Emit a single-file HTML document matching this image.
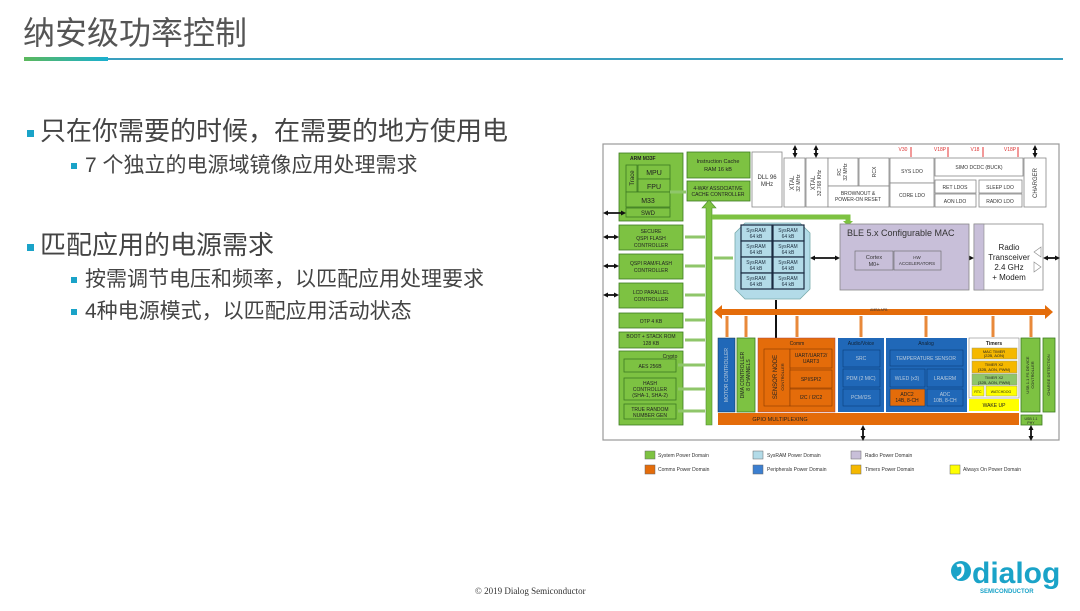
<!DOCTYPE html>
<html><head><meta charset="utf-8"><style>
html,body{margin:0;padding:0;background:#fff;width:1080px;height:611px;overflow:hidden;position:relative;font-family:"Liberation Sans","Noto Sans CJK SC",sans-serif}
.t{position:absolute;white-space:nowrap;color:#444}
.sq{display:inline-block;background:#1aa3c8}
</style></head><body>
<div class="t" style="left:23px;top:8px;font-size:32px;color:#555">纳安级功率控制</div>
<div style="position:absolute;left:24px;top:57px;width:84px;height:4px;background:linear-gradient(90deg,#5cb85c,#1ab0d0)"></div>
<div style="position:absolute;left:108px;top:58px;width:955px;height:2px;background:#3a9fbf"></div>

<div class="t" style="left:27px;top:111px;font-size:26px"><span class="sq" style="width:7px;height:7px;margin-right:6px;vertical-align:middle"></span>只在你需要的时候，在需要的地方使用电</div>
<div class="t" style="left:71px;top:149px;font-size:21px"><span class="sq" style="width:6px;height:6px;margin-right:8px;vertical-align:middle"></span>7 个独立的电源域镜像应用处理需求</div>
<div class="t" style="left:27px;top:225px;font-size:26px"><span class="sq" style="width:7px;height:7px;margin-right:6px;vertical-align:middle"></span>匹配应用的电源需求</div>
<div class="t" style="left:71px;top:263px;font-size:21px"><span class="sq" style="width:6px;height:6px;margin-right:8px;vertical-align:middle"></span>按需调节电压和频率，以匹配应用处理要求</div>
<div class="t" style="left:71px;top:295px;font-size:21px"><span class="sq" style="width:6px;height:6px;margin-right:8px;vertical-align:middle"></span>4种电源模式，以匹配应用活动状态</div>

<div class="t" style="left:475px;top:586px;font-size:9px;font-family:'Liberation Serif',serif;color:#333">© 2019 Dialog Semiconductor</div>

<svg style="position:absolute;left:0;top:0" width="1080" height="611" font-family="Liberation Sans, sans-serif">
<defs>
<marker id="ab" markerUnits="userSpaceOnUse" markerWidth="5" markerHeight="5" refX="3" refY="2.5" orient="auto-start-reverse"><path d="M0,0L5,2.5L0,5z" fill="#111"/></marker>
</defs>
<!-- logo -->
<circle cx="961" cy="571" r="10" fill="#1aa3c8"/>
<path d="M957,566 q6,-3 6,4 q0,6 -6,8" stroke="#fff" stroke-width="3" fill="none"/>
<text x="972" y="583" font-size="30" fill="#1aa3c8" font-weight="bold">dialog</text>
<text x="980" y="593" font-size="6" fill="#1aa3c8" font-weight="bold">SEMICONDUCTOR</text>

<!-- frame -->
<rect x="603" y="144" width="456" height="296" fill="#fff" stroke="#999" stroke-width="1.2"/>

<g stroke="#3d7a22" stroke-width="0.8" fill="#7dc242">
<rect x="619" y="153" width="64" height="68"/>
<rect x="626" y="165" width="11" height="27"/>
<rect x="638" y="165" width="32" height="14"/>
<rect x="638" y="179" width="32" height="13"/>
<rect x="626" y="192" width="44" height="15"/>
<rect x="626" y="208" width="44" height="9"/>
<rect x="687" y="152" width="63" height="26"/>
<rect x="687" y="181" width="63" height="20"/>
<rect x="619" y="225" width="64" height="25"/>
<rect x="619" y="254" width="64" height="25"/>
<rect x="619" y="283" width="64" height="25"/>
<rect x="619" y="313" width="64" height="15"/>
<rect x="619" y="332" width="64" height="16"/>
<rect x="619" y="351" width="64" height="74"/>
<rect x="624" y="359" width="52" height="13"/>
<rect x="624" y="378" width="52" height="22"/>
<rect x="624" y="404" width="52" height="15"/>
<rect x="737" y="338" width="18" height="74"/>
<rect x="1021" y="338" width="19" height="74"/>
<rect x="1043" y="338" width="12" height="74"/>
<rect x="1021" y="415" width="21" height="10"/>
</g>
<g font-size="5" fill="#222" text-anchor="middle">
<text x="630" y="160" text-anchor="start" font-weight="bold">ARM M33F</text>
<text x="654" y="175" font-size="7">MPU</text><text x="654" y="189" font-size="7">FPU</text>
<text x="648" y="203" font-size="7">M33</text><text x="648" y="215" font-size="6">SWD</text>
<text x="634" y="178" font-size="6" transform="rotate(-90 634 178)">Trace</text>
<text x="718" y="163" font-size="5.5">Instruction Cache</text><text x="718" y="171" font-size="5.5">RAM 16 kB</text>
<text x="718" y="190">4-WAY ASSOCIATIVE</text><text x="718" y="196">CACHE CONTROLLER</text>
<text x="651" y="233">SECURE</text><text x="651" y="240">QSPI FLASH</text><text x="651" y="247">CONTROLLER</text>
<text x="651" y="265">QSPI RAM/FLASH</text><text x="651" y="272">CONTROLLER</text>
<text x="651" y="294">LCD PARALLEL</text><text x="651" y="301">CONTROLLER</text>
<text x="651" y="323">OTP 4 KB</text>
<text x="651" y="338">BOOT + STACK ROM</text><text x="651" y="345">128 KB</text>
<text x="670" y="358">Crypto</text>
<text x="650" y="368">AES 256B</text>
<text x="650" y="385">HASH</text><text x="650" y="391">CONTROLLER</text><text x="650" y="397">(SHA-1, SHA-2)</text>
<text x="650" y="411">TRUE RANDOM</text><text x="650" y="417">NUMBER GEN</text>
</g>

<g stroke="#888" stroke-width="0.8" fill="#fff">
<rect x="752" y="152" width="30" height="55"/>
<rect x="784" y="158" width="21" height="49"/>
<rect x="806" y="158" width="22" height="49"/>
<rect x="828" y="158" width="30" height="28"/>
<rect x="859" y="158" width="30" height="28"/>
<rect x="828" y="186" width="61" height="21"/>
<rect x="890" y="158" width="44" height="25"/>
<rect x="890" y="183" width="44" height="24"/>
<rect x="935" y="158" width="88" height="18"/>
<rect x="935" y="180" width="41" height="13"/>
<rect x="979" y="180" width="43" height="13"/>
<rect x="935" y="194" width="41" height="13"/>
<rect x="979" y="194" width="43" height="13"/>
<rect x="1024" y="158" width="22" height="49"/>
</g>
<g font-size="5" fill="#333" text-anchor="middle">
<text x="767" y="179" font-size="6">DLL 96</text><text x="767" y="186" font-size="6">MHz</text>
<text x="794" y="183" font-size="6" transform="rotate(-90 794 183)">XTAL</text>
<text x="800" y="183" transform="rotate(-90 800 183)">32 MHz</text>
<text x="815" y="183" font-size="6" transform="rotate(-90 815 183)">XTAL</text>
<text x="821" y="183" transform="rotate(-90 821 183)">32.768 KHz</text>
<text x="841" y="172" transform="rotate(-90 841 172)">RC</text>
<text x="847" y="172" transform="rotate(-90 847 172)">32 MHz</text>
<text x="876" y="172" transform="rotate(-90 876 172)">RCX</text>
<text x="858" y="195">BROWNOUT &amp;</text><text x="858" y="201">POWER-ON RESET</text>
<text x="912" y="173">SYS LDO</text><text x="912" y="197">CORE LDO</text>
<text x="979" y="169">SIMO DCDC (BUCK)</text>
<text x="955" y="189">RET LDOS</text><text x="1000" y="189">SLEEP LDO</text>
<text x="955" y="203">AON LDO</text><text x="1000" y="203">RADIO LDO</text>
<text x="1037" y="183" font-size="6" transform="rotate(-90 1037 183)">CHARGER</text>
<g fill="#d33" font-size="5"><text x="903" y="151">V30</text><text x="940" y="151">V18P</text><text x="975" y="151">V18</text><text x="1010" y="151">V18P</text></g>
</g>
<g stroke="#e77" stroke-width="1.5"><line x1="911" y1="147" x2="911" y2="157"/><line x1="948" y1="147" x2="948" y2="157"/><line x1="983" y1="147" x2="983" y2="157"/><line x1="1018" y1="147" x2="1018" y2="157"/></g>

<g stroke="#111" stroke-width="1.8" marker-start="url(#ab)" marker-end="url(#ab)">
<line x1="795" y1="147" x2="795" y2="156"/><line x1="816" y1="147" x2="816" y2="156"/><line x1="1035" y1="147" x2="1035" y2="156"/>
<line x1="605" y1="213" x2="624" y2="213"/>
<line x1="605" y1="237" x2="617" y2="237"/><line x1="605" y1="266" x2="617" y2="266"/><line x1="605" y1="295" x2="617" y2="295"/>
<line x1="812" y1="258" x2="838" y2="258"/>
<line x1="943" y1="258" x2="972" y2="258"/>
<line x1="1045" y1="258" x2="1058" y2="258"/>
<line x1="863" y1="427" x2="863" y2="439"/><line x1="1031" y1="427" x2="1031" y2="439"/>
</g>
<line x1="776" y1="300" x2="776" y2="349" stroke="#111" stroke-width="2"/>

<g fill="#7dc242" stroke="#4a8c2a" stroke-width="0.6">
<path d="M706,425 L706,208 L702,208 L709,200 L716,208 L712,208 L712,425 Z"/>
</g>
<path d="M712,217 L848,217 L848,222" stroke="#7dc242" stroke-width="5" fill="none"/>
<path d="M843,221 L853,221 L848,226 Z" fill="#7dc242"/>
<g stroke="#8fc66a" stroke-width="3">
<line x1="685" y1="237" x2="705" y2="237"/><line x1="685" y1="266" x2="705" y2="266"/><line x1="685" y1="295" x2="705" y2="295"/>
<line x1="685" y1="320" x2="705" y2="320"/><line x1="685" y1="340" x2="705" y2="340"/>
<line x1="678" y1="365" x2="705" y2="365"/><line x1="678" y1="389" x2="705" y2="389"/><line x1="678" y1="411" x2="705" y2="411"/>
<line x1="670" y1="192" x2="686" y2="192"/><line x1="714" y1="258" x2="733" y2="258"/>
</g>

<path d="M745,223 L800,223 L810,233 L810,289 L800,299 L745,299 L735,289 L735,233 Z" fill="#b3dbe8" stroke="#7aa" stroke-width="0.8"/>
<g fill="#b3dbe8" stroke="#1a2a40" stroke-width="1.2">
<rect x="741" y="225" width="31" height="16"/><rect x="773" y="225" width="31" height="16"/>
<rect x="741" y="241" width="31" height="16"/><rect x="773" y="241" width="31" height="16"/>
<rect x="741" y="257" width="31" height="16"/><rect x="773" y="257" width="31" height="16"/>
<rect x="741" y="273" width="31" height="16"/><rect x="773" y="273" width="31" height="16"/>
</g>
<g font-size="5" fill="#234" text-anchor="middle">
<text x="756" y="232">SysRAM</text><text x="756" y="238">64 kB</text><text x="788" y="232">SysRAM</text><text x="788" y="238">64 kB</text>
<text x="756" y="248">SysRAM</text><text x="756" y="254">64 kB</text><text x="788" y="248">SysRAM</text><text x="788" y="254">64 kB</text>
<text x="756" y="264">SysRAM</text><text x="756" y="270">64 kB</text><text x="788" y="264">SysRAM</text><text x="788" y="270">64 kB</text>
<text x="756" y="280">SysRAM</text><text x="756" y="286">64 kB</text><text x="788" y="280">SysRAM</text><text x="788" y="286">64 kB</text>
</g>

<rect x="840" y="224" width="129" height="66" fill="#c8bfd9" stroke="#888" stroke-width="0.8"/>
<text x="847" y="236" font-size="9" fill="#333">BLE 5.x Configurable MAC</text>
<rect x="855" y="251" width="38" height="19" fill="#c8bfd9" stroke="#666" stroke-width="0.6"/>
<rect x="894" y="251" width="47" height="19" fill="#c8bfd9" stroke="#666" stroke-width="0.6"/>
<g font-size="5.5" fill="#333" text-anchor="middle"><text x="874" y="259">Cortex</text><text x="874" y="266">M0+</text>
<text x="917" y="259" font-size="4.5">HW</text><text x="917" y="265" font-size="4.5">ACCELERATORS</text></g>
<rect x="974" y="224" width="69" height="66" fill="#fff" stroke="#888" stroke-width="0.8"/>
<rect x="974" y="224" width="10" height="66" fill="#c8bfd9" stroke="#888" stroke-width="0.6"/>
<g font-size="8" fill="#222" text-anchor="middle"><text x="1009" y="250">Radio</text><text x="1009" y="260">Transceiver</text><text x="1009" y="270">2.4 GHz</text><text x="1009" y="280">+ Modem</text></g>
<path d="M1041,247 L1034,252 L1041,257 Z M1034,262 L1041,267 L1034,272 Z" fill="none" stroke="#888" stroke-width="0.6"/>

<path d="M722,309 L1045,309 L1045,305 L1053,312 L1045,319 L1045,315 L722,315 L722,319 L714,312 L722,305 Z" fill="#e46c0a"/>
<text x="870" y="311" font-size="3.5" fill="#333">AMBA APB</text>
<g stroke="#e8893a" stroke-width="3">
<line x1="727" y1="316" x2="727" y2="337"/><line x1="746" y1="316" x2="746" y2="337"/><line x1="797" y1="316" x2="797" y2="337"/>
<line x1="861" y1="316" x2="861" y2="337"/><line x1="926" y1="316" x2="926" y2="337"/><line x1="993" y1="316" x2="993" y2="337"/><line x1="1031" y1="316" x2="1031" y2="337"/>
</g>

<rect x="718" y="338" width="17" height="74" fill="#2068b8" stroke="#134" stroke-width="0.5"/>
<rect x="758" y="338" width="77" height="74" fill="#e46c0a" stroke="#a44" stroke-width="0.5"/>
<g fill="#e46c0a" stroke="#8a3b00" stroke-width="0.6">
<rect x="764" y="349" width="26" height="57"/><rect x="790" y="349" width="42" height="19"/><rect x="790" y="370" width="42" height="18"/><rect x="790" y="389" width="42" height="17"/>
</g>
<rect x="838" y="338" width="46" height="74" fill="#2068b8"/>
<rect x="886" y="338" width="81" height="74" fill="#2068b8"/>
<g fill="#2068b8" stroke="#0b3f7a" stroke-width="0.6">
<rect x="843" y="350" width="37" height="17"/><rect x="843" y="369" width="37" height="18"/><rect x="843" y="389" width="37" height="17"/>
<rect x="890" y="350" width="73" height="16"/><rect x="890" y="369" width="35" height="18"/><rect x="927" y="369" width="36" height="18"/>
<rect x="927" y="389" width="36" height="17"/>
</g>
<rect x="890" y="389" width="35" height="17" fill="#e46c0a" stroke="#0b3f7a" stroke-width="0.6"/>
<rect x="969" y="338" width="50" height="60" fill="#fff" stroke="#888" stroke-width="0.6"/>
<g stroke="#997" stroke-width="0.5"><rect x="972" y="348" width="45" height="11" fill="#f5b800"/><rect x="972" y="361" width="45" height="12" fill="#f5b800"/><rect x="972" y="374" width="45" height="11" fill="#8fc66a"/>
<rect x="972" y="386" width="12" height="10" fill="#ffff00"/><rect x="986" y="386" width="31" height="10" fill="#ffff00"/></g>
<rect x="969" y="399" width="50" height="12" fill="#ffff00"/>
<rect x="718" y="413" width="301" height="12" fill="#e46c0a"/>
<g font-size="5" fill="#222" text-anchor="middle">
<text x="797" y="345">Comm</text>
<text x="811" y="357">UART/UART2/</text><text x="811" y="363">UART3</text><text x="811" y="381">SPI/SPI2</text><text x="811" y="399">I2C / I2C2</text>
<text x="861" y="345" fill="#123">Audio/Voice</text><text x="926" y="345" fill="#123">Analog</text>
<text x="861" y="360" fill="#bcd">SRC</text><text x="861" y="380" fill="#bcd">PDM (2 MIC)</text><text x="861" y="399" fill="#bcd">PCM/I2S</text>
<text x="926" y="360" fill="#bcd">TEMPERATURE SENSOR</text><text x="907" y="380" fill="#bcd">WLED (x3)</text><text x="945" y="380" fill="#bcd">LRA/ERM</text>
<text x="907" y="396">ADC2</text><text x="907" y="402">14B, 8-CH</text><text x="945" y="396" fill="#bcd">ADC</text><text x="945" y="402" fill="#bcd">10B, 8-CH</text>
<text x="994" y="345" font-weight="bold">Timers</text>
<text x="994" y="353" font-size="4">MAC TIMER</text><text x="994" y="357" font-size="4">(22B, AON)</text>
<text x="994" y="366" font-size="4">TIMER X2</text><text x="994" y="371" font-size="4">(32B, AON, PWM)</text>
<text x="994" y="379" font-size="4">TIMER X2</text><text x="994" y="384" font-size="4">(32B, AON, PWM)</text>
<text x="978" y="393" font-size="3.5">RTC</text><text x="1001" y="393" font-size="3.5">WATCHDOG</text>
<text x="994" y="407">WAKE UP</text>
<text x="780" y="421" font-size="5.5">GPIO MULTIPLEXING</text>
<text x="1031" y="420" font-size="3.5">USB 1.1</text><text x="1031" y="424" font-size="3.5">PHY</text>
<text x="728" y="375" transform="rotate(-90 728 375)" fill="#bcd">MOTOR CONTROLLER</text>
<text x="744" y="375" transform="rotate(-90 744 375)">DMA CONTROLLER</text><text x="750" y="375" transform="rotate(-90 750 375)">8 CHANNELS</text>
<text x="777" y="377" font-size="6" transform="rotate(-90 777 377)">SENSOR NODE</text><text x="784" y="377" font-size="4" transform="rotate(-90 784 377)">CONTROLLER</text>
<text x="1029" y="375" font-size="4" transform="rotate(-90 1029 375)">USB 1.1 FS DEVICE</text><text x="1034" y="375" font-size="4" transform="rotate(-90 1034 375)">CONTROLLER</text>
<text x="1050" y="375" font-size="4" transform="rotate(-90 1050 375)">CHARGE DETECTION</text>
</g>

<g stroke="#666" stroke-width="0.5">
<rect x="645" y="451" width="10" height="8" fill="#7dc242"/><rect x="645" y="465" width="10" height="9" fill="#e46c0a"/>
<rect x="753" y="451" width="10" height="8" fill="#b3dbe8"/><rect x="753" y="465" width="10" height="9" fill="#3c7fd0"/>
<rect x="851" y="451" width="10" height="8" fill="#c8bfd9"/><rect x="851" y="465" width="10" height="9" fill="#f5b800"/>
<rect x="950" y="465" width="10" height="9" fill="#ffff00"/>
</g>
<g font-size="5" fill="#333">
<text x="658" y="457">System Power Domain</text><text x="658" y="471">Comms Power Domain</text>
<text x="767" y="457">SysRAM Power Domain</text><text x="767" y="471">Peripherals Power Domain</text>
<text x="865" y="457">Radio Power Domain</text><text x="865" y="471">Timers Power Domain</text>
<text x="963" y="471">Always On Power Domain</text>
</g>
</svg>
</body></html>
